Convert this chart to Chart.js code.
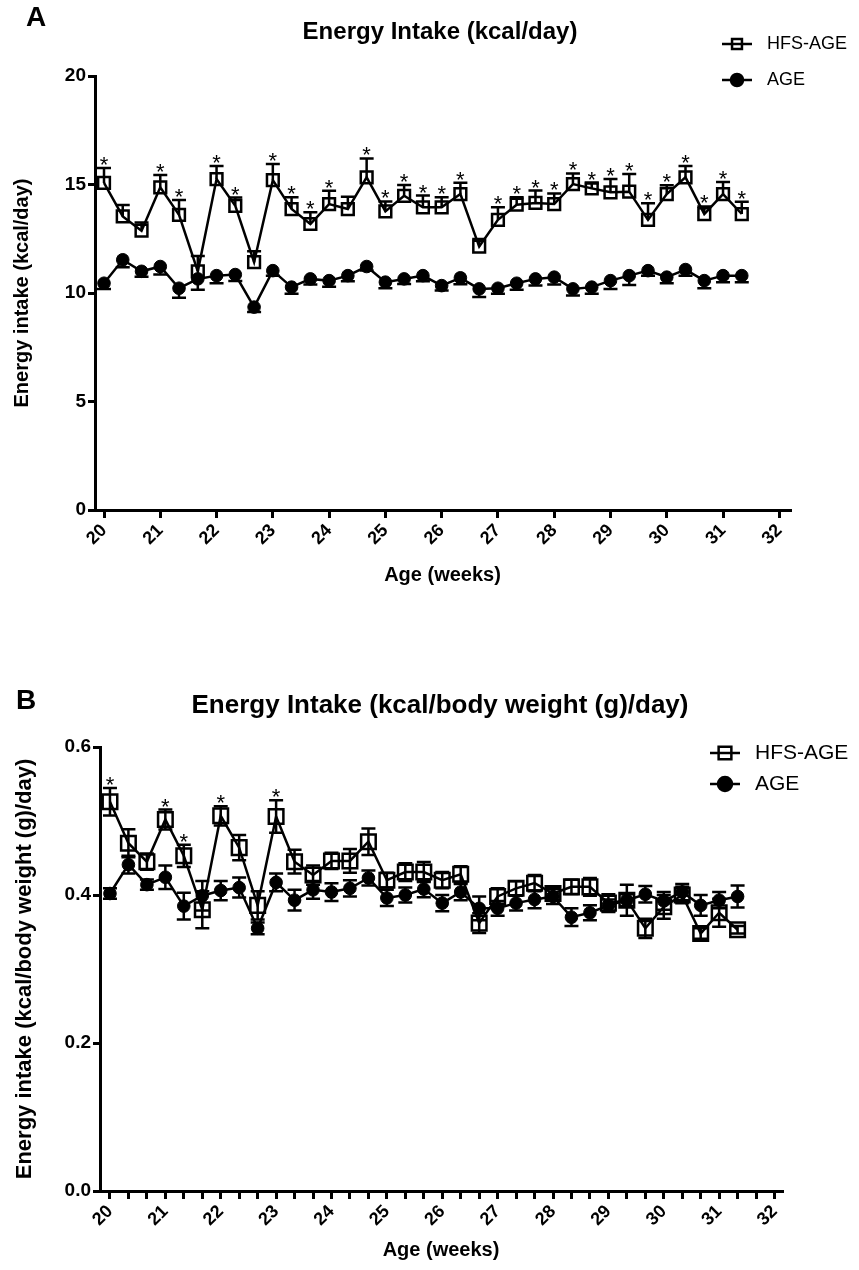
<!DOCTYPE html>
<html>
<head>
<meta charset="utf-8">
<script src="https://cdn.jsdelivr.net/npm/chart.js@4.4.1/dist/chart.umd.min.js"></script>
<style>
  html, body { margin: 0; padding: 0; background: #fff; }
  canvas { display: block; }
</style>
</head>
<body>
<canvas id="chartA" width="859" height="640"></canvas>
<canvas id="chartB" width="859" height="630"></canvas>
<script>
// sampling weeks (three feeds a week)
const weeks = [20, 20.333, 20.667, 21, 21.333, 21.667, 22, 22.333, 22.667, 23, 23.333, 23.667,
  24, 24.333, 24.667, 25, 25.333, 25.667, 26, 26.333, 26.667, 27, 27.333, 27.667,
  28, 28.333, 28.667, 29, 29.333, 29.667, 30, 30.333, 30.667, 31, 31.333];
const weekLabels = [20, 21, 22, 23, 24, 25, 26, 27, 28, 29, 30, 31, 32];

// A: kcal/day
const hfsKcal = [15.07, 13.53, 12.87, 14.87, 13.6, 11.0, 15.25, 14.02, 11.42, 15.2, 13.87, 13.18,
  14.1, 13.87, 15.33, 13.76, 14.48, 13.95, 13.95, 14.56, 12.14, 13.37, 14.07, 14.15,
  14.1, 15.02, 14.82, 14.64, 14.67, 13.37, 14.56, 15.33, 13.64, 14.56, 13.64];
const hfsKcalSem = [0.69, 0.52, 0.38, 0.57, 0.69, 0.7, 0.6, 0.38, 0.5, 0.74, 0.54, 0.54,
  0.61, 0.57, 0.87, 0.46, 0.5, 0.54, 0.46, 0.52, 0.35, 0.58, 0.34, 0.57,
  0.49, 0.49, 0.23, 0.61, 0.81, 0.77, 0.41, 0.52, 0.35, 0.55, 0.57];
const ageKcal = [10.45, 11.53, 11.0, 11.22, 10.22, 10.65, 10.8, 10.85, 9.35, 11.03, 10.27, 10.65,
  10.57, 10.8, 11.22, 10.5, 10.65, 10.8, 10.34, 10.7, 10.19, 10.22, 10.45, 10.65,
  10.73, 10.19, 10.27, 10.57, 10.8, 11.03, 10.73, 11.08, 10.57, 10.8, 10.8];
const ageKcalSem = [0.26, 0.34, 0.25, 0.37, 0.44, 0.5, 0.35, 0.3, 0.23, 0.23, 0.3, 0.26,
  0.28, 0.26, 0.18, 0.28, 0.23, 0.26, 0.23, 0.3, 0.38, 0.26, 0.3, 0.3,
  0.34, 0.3, 0.3, 0.38, 0.43, 0.23, 0.28, 0.28, 0.35, 0.3, 0.3];
const starsKcal = [1, 0, 0, 1, 1, 0, 1, 1, 0, 1, 1, 1, 1, 0, 1, 1, 1, 1, 1, 1, 0, 1, 1, 1,
  1, 1, 1, 1, 1, 1, 1, 1, 1, 1, 1];

// B: kcal/body weight (g)/day
const hfsRel = [0.526, 0.470, 0.445, 0.502, 0.453, 0.380, 0.507, 0.464, 0.386, 0.506, 0.445, 0.427,
  0.446, 0.446, 0.472, 0.420, 0.431, 0.431, 0.420, 0.428, 0.362, 0.398, 0.409, 0.416,
  0.402, 0.411, 0.411, 0.389, 0.393, 0.355, 0.384, 0.400, 0.348, 0.376, 0.353];
const hfsRelSem = [0.0185, 0.019, 0.011, 0.0135, 0.015, 0.025, 0.013, 0.017, 0.019, 0.022, 0.016, 0.013,
  0.011, 0.016, 0.018, 0.010, 0.012, 0.0135, 0.011, 0.011, 0.0135, 0.011, 0.0095, 0.011,
  0.009, 0.0095, 0.012, 0.012, 0.021, 0.013, 0.016, 0.011, 0.007, 0.019, 0.005];
const ageRel = [0.402, 0.441, 0.414, 0.424, 0.385, 0.399, 0.406, 0.410, 0.355, 0.417, 0.393, 0.407,
  0.404, 0.409, 0.423, 0.396, 0.400, 0.408, 0.389, 0.404, 0.382, 0.382, 0.389, 0.394,
  0.398, 0.370, 0.376, 0.386, 0.393, 0.401, 0.392, 0.404, 0.386, 0.393, 0.398];
const ageRelSem = [0.007, 0.012, 0.007, 0.016, 0.018, 0.02, 0.013, 0.0135, 0.008, 0.012, 0.014, 0.012,
  0.012, 0.011, 0.01, 0.011, 0.01, 0.011, 0.011, 0.011, 0.016, 0.01, 0.01, 0.012,
  0.01, 0.012, 0.01, 0.008, 0.008, 0.011, 0.012, 0.011, 0.014, 0.011, 0.015];
const starsRel = [1, 0, 0, 1, 1, 0, 1, 0, 0, 1, 0, 0, 0, 0, 0, 0, 0, 0, 0, 0, 0, 0, 0, 0,
  0, 0, 0, 0, 0, 0, 0, 0, 0, 0, 0];

const FONT = '"Liberation Sans", Arial, sans-serif';
Chart.defaults.font.family = FONT;
Chart.defaults.color = '#000';

const toPoints = (vals) => weeks.map((w, i) => ({ x: w, y: vals[i] }));

// SEM bars under the markers, asterisks over them
const semBars = {
    id: 'semBars',
    beforeDatasetsDraw(chart) {
        const { ctx, scales: { x, y } } = chart;
        ctx.save();
        ctx.strokeStyle = '#000';
        ctx.lineWidth = 2.5;
        chart.data.datasets.forEach((ds) => {
            const up = ds.errDir !== 'down';
            const down = ds.errDir !== 'up';
            ds.data.forEach((p, i) => {
                const px = x.getPixelForValue(p.x);
                const yTop = y.getPixelForValue(p.y + (up ? ds.sem[i] : 0));
                const yBot = y.getPixelForValue(p.y - (down ? ds.sem[i] : 0));
                ctx.beginPath();
                ctx.moveTo(px, yTop);
                ctx.lineTo(px, yBot);
                if (up) { ctx.moveTo(px - 7, yTop); ctx.lineTo(px + 7, yTop); }
                if (down) { ctx.moveTo(px - 7, yBot); ctx.lineTo(px + 7, yBot); }
                ctx.stroke();
            });
        });
        ctx.restore();
    },
    afterDatasetsDraw(chart) {
        const { ctx, scales: { x, y } } = chart;
        ctx.save();
        ctx.fillStyle = '#000';
        ctx.font = '22px ' + FONT;
        ctx.textAlign = 'center';
        ctx.textBaseline = 'alphabetic';
        chart.data.datasets.forEach((ds) => {
            if (!ds.stars) return;
            ds.data.forEach((p, i) => {
                if (!ds.stars[i]) return;
                const px = x.getPixelForValue(p.x);
                const capY = y.getPixelForValue(p.y + ds.sem[i]);
                ctx.fillText('*', px, capY + 4);
            });
        });
        ctx.restore();
    },
};

// panel letter, title and legend
const decor = {
    id: 'decor',
    afterDraw(chart, args, opts) {
        const ctx = chart.ctx;
        ctx.save();
        ctx.fillStyle = '#000';
        ctx.textBaseline = 'middle';
        ctx.textAlign = 'left';
        ctx.font = 'bold 28px ' + FONT;
        ctx.fillText(opts.letter, opts.letterX, opts.letterY);
        ctx.textAlign = 'center';
        ctx.font = 'bold ' + opts.titleSize + 'px ' + FONT;
        ctx.fillText(opts.title, opts.titleX, opts.titleY);

        ctx.font = opts.legendSize + 'px ' + FONT;
        ctx.textAlign = 'left';
        chart.data.datasets.forEach((ds, i) => {
            const ly = opts.legendY[i];
            ctx.strokeStyle = '#000';
            ctx.lineWidth = 2.5;
            ctx.beginPath();
            ctx.moveTo(opts.legendX - 15, ly);
            ctx.lineTo(opts.legendX + 15, ly);
            ctx.stroke();
            ctx.fillStyle = ds.pointBackgroundColor;
            Chart.helpers.drawPoint(ctx, {
                pointStyle: ds.pointStyle,
                radius: opts.legendRadius[i],
                rotation: 0,
                borderWidth: 2.5,
            }, opts.legendX, ly);
            ctx.fillStyle = '#000';
            ctx.fillText(ds.label, opts.legendTextX, ly);
        });
        ctx.restore();
    },
};

function makeChart(id, cfg) {
    const minor = cfg.minorTicks;
    return new Chart(document.getElementById(id), {
        type: 'line',
        data: {
            datasets: [
                {
                    label: 'HFS-AGE',
                    data: toPoints(cfg.hfs),
                    sem: cfg.hfsSem,
                    stars: cfg.stars,
                    errDir: cfg.hfsDir,
                    borderColor: '#000',
                    borderWidth: 2.5,
                    tension: 0,
                    pointStyle: 'rect',
                    pointRadius: cfg.squareRadius,
                    pointBorderWidth: 2.5,
                    pointBorderColor: '#000',
                    pointBackgroundColor: 'rgba(0,0,0,0)',
                },
                {
                    label: 'AGE',
                    data: toPoints(cfg.age),
                    sem: cfg.ageSem,
                    errDir: cfg.ageDir,
                    borderColor: '#000',
                    borderWidth: 2.5,
                    tension: 0,
                    pointStyle: 'circle',
                    pointRadius: 6.3,
                    pointBorderWidth: 1,
                    pointBorderColor: '#000',
                    pointBackgroundColor: '#000',
                },
            ],
        },
        options: {
            responsive: false,
            animation: false,
            devicePixelRatio: 1,
            events: [],
            layout: { padding: cfg.padding },
            plugins: {
                legend: { display: false },
                tooltip: { enabled: false },
                decor: cfg.decor,
            },
            scales: {
                x: {
                    type: 'linear',
                    min: cfg.xMin,
                    max: cfg.xMax,
                    afterBuildTicks: (scale) => {
                        const t = [];
                        weekLabels.forEach((w) => {
                            t.push({ value: w });
                            if (minor && w < 32) {
                                t.push({ value: w + 1 / 3 });
                                t.push({ value: w + 2 / 3 });
                            }
                        });
                        scale.ticks = t;
                    },
                    afterFit: (scale) => { scale.height = cfg.xHeight; },
                    ticks: {
                        autoSkip: false,
                        minRotation: 45,
                        maxRotation: 45,
                        padding: 2,
                        font: { size: 18, weight: 'bold' },
                        callback: (v) => (Math.abs(v - Math.round(v)) < 1e-6 ? String(Math.round(v)) : ''),
                    },
                    grid: { drawOnChartArea: false, drawTicks: true, tickLength: 8, lineWidth: 3, color: '#000' },
                    border: { color: '#000', width: 3 },
                    title: {
                        display: true,
                        text: 'Age (weeks)',
                        font: { size: 20, weight: 'bold' },
                        padding: { top: 0, bottom: cfg.xTitlePad },
                    },
                },
                y: {
                    min: 0,
                    max: cfg.yMax,
                    afterFit: (scale) => { scale.width = cfg.yWidth; },
                    ticks: {
                        stepSize: cfg.yStep,
                        padding: 2,
                        font: { size: 19, weight: 'bold' },
                        callback: cfg.yFmt,
                    },
                    grid: { drawOnChartArea: false, drawTicks: true, tickLength: 7, lineWidth: 3, color: '#000' },
                    border: { color: '#000', width: 3 },
                    title: {
                        display: true,
                        text: cfg.yTitle,
                        font: { size: cfg.yTitleSize, weight: 'bold' },
                        padding: { top: cfg.yTitlePad, bottom: 0 },
                    },
                },
            },
        },
        plugins: [semBars, decor],
    });
}

makeChart('chartA', {
    hfs: hfsKcal, hfsSem: hfsKcalSem, age: ageKcal, ageSem: ageKcalSem, stars: starsKcal,
    hfsDir: 'up', ageDir: 'down', minorTicks: false, squareRadius: 8.3,
    xMin: 19.84, xMax: 32.19, yMax: 20, yStep: 5,
    yFmt: (v) => String(v),
    yTitle: 'Energy intake (kcal/day)', yTitleSize: 20, yTitlePad: 10,
    padding: { left: 0, top: 76, right: 69, bottom: 0 },
    yWidth: 95, xHeight: 130, xTitlePad: 53,
    decor: {
        letter: 'A', letterX: 26, letterY: 18,
        title: 'Energy Intake (kcal/day)', titleSize: 24, titleX: 440, titleY: 32,
        legendSize: 18, legendX: 737, legendTextX: 767, legendY: [44, 80], legendRadius: [7, 6],
    },
});

makeChart('chartB', {
    hfs: hfsRel, hfsSem: hfsRelSem, age: ageRel, ageSem: ageRelSem, stars: starsRel,
    hfsDir: 'both', ageDir: 'both', minorTicks: true, squareRadius: 10.3,
    xMin: 19.82, xMax: 32.135, yMax: 0.6, yStep: 0.2,
    yFmt: (v) => v.toFixed(1),
    yTitle: 'Energy intake (kcal/body weight (g)/day)', yTitleSize: 22, yTitlePad: 12,
    padding: { left: 0, top: 107, right: 77, bottom: 0 },
    yWidth: 100, xHeight: 79, xTitlePad: 8,
    decor: {
        letter: 'B', letterX: 16, letterY: 61,
        title: 'Energy Intake (kcal/body weight (g)/day)', titleSize: 26, titleX: 440, titleY: 66,
        legendSize: 21, legendX: 725, legendTextX: 755, legendY: [113, 144], legendRadius: [9, 7],
    },
});
</script>
</body>
</html>
